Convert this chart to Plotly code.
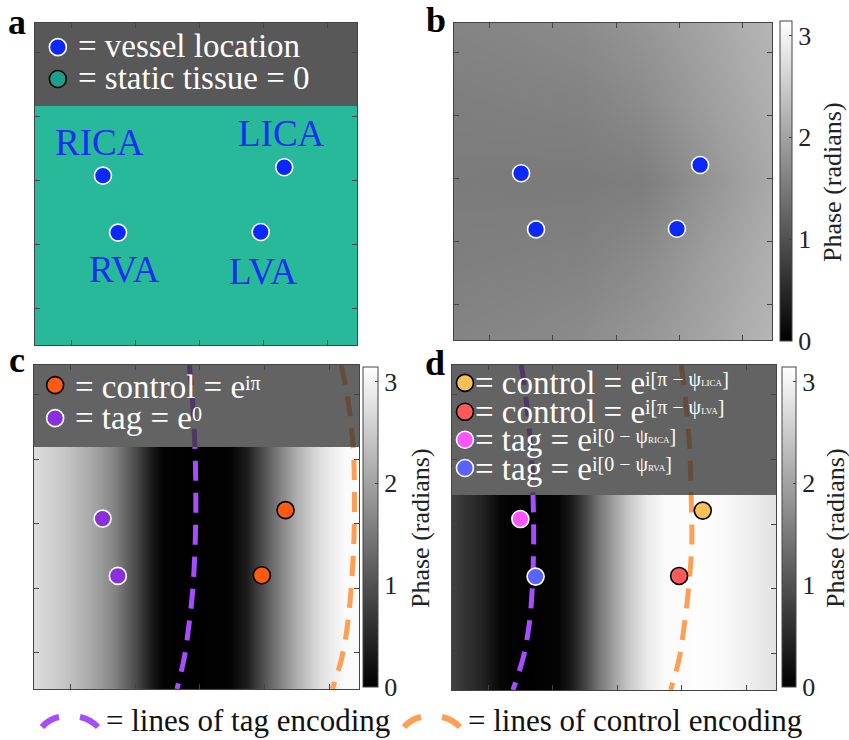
import plotly.graph_objects as go

W, H = 849, 740
FONT = "Liberation Serif"


def fx(p):
    return p / W


def fy(p):
    return 1 - p / H


# ---------------- data ----------------
vessel_names = ["RICA", "LICA", "RVA", "LVA"]
vessel_x = [21.1, 77.4, 25.8, 70.1]
vessel_y = [52.6, 55.2, 34.9, 35.1]
label_x = [19.9, 76.7, 27.9, 70.8]
label_y = [63.0, 65.8, 23.6, 22.7]

# panel b: phase (radians) read on a coarse grid
b_x = [0, 20, 40, 60, 80, 100]
b_y = [0, 25, 50, 75, 100]
b_phase = [
    [1.63, 1.66, 1.72, 1.85, 2.03, 2.24],
    [1.56, 1.58, 1.60, 1.72, 1.95, 2.17],
    [1.52, 1.51, 1.51, 1.55, 1.82, 2.09],
    [1.56, 1.58, 1.60, 1.72, 1.95, 2.17],
    [1.63, 1.66, 1.72, 1.85, 2.03, 2.24],
]

# panel c: phase profile across x
c_prof_x = [0, 8.9, 17.2, 24.9, 31.7, 36.6, 39.7, 49.8, 60.3, 65.5, 70.5, 75.7, 80.9, 85.8, 91.1, 95.7, 100]
c_prof_phase = [2.71, 2.46, 2.09, 1.60, 0.86, 0.25, 0.04, 0.0, 0.04, 0.37, 0.99, 1.60, 2.16, 2.59, 2.90, 3.08, 3.10]
c_map_top = 74.7

# panel d: phase profile across x
d_prof_x = [0, 4.0, 9.0, 12.0, 15.1, 24.4, 32.7, 36.7, 41.0, 45.1, 50.3, 55.2, 60.5, 65.7, 75.9, 83.0, 88.3, 93.5, 100]
d_prof_phase = [0.80, 0.62, 0.43, 0.25, 0.06, 0.0, 0.06, 0.31, 0.86, 1.42, 2.03, 2.53, 2.90, 3.08, 3.12, 3.08, 2.99, 2.90, 2.77]
d_map_top = 60.0

# encoding lines
curve_y = [100, 90, 75, 60, 45, 30, 20, 10, 0]
c_tag_x = [47.8, 48.7, 49.5, 49.8, 49.6, 48.8, 47.7, 46.3, 44.0]
c_ctrl_x = [94.5, 96.5, 98.2, 98.6, 98.4, 97.5, 96.5, 94.8, 91.8]
d_tag_x = [21.4, 22.8, 24.3, 25.0, 25.2, 24.7, 23.8, 22.0, 18.8]
d_ctrl_x = [70.8, 72.0, 73.3, 73.8, 74.0, 72.9, 71.7, 70.2, 67.5]

tick_vals = [11.2, 31.1, 51.0, 70.9, 90.8]
cbar_ticks = [0, 1, 2, 3]

# ---------------- styles ----------------
TEAL = "#27b99a"
BLUE = "#0a28ff"
TAG_PURPLE = "#8a2fe0"
CTRL_ORANGE = "#ff5a14"
YELLOW = "#f8c055"
RED = "#ff5a5a"
MAGENTA = "#ff55ff"
BLUE2 = "#5a62ff"
LINE_PURPLE = "#a64dff"
LINE_ORANGE = "#ff9f55"
GRAYSCALE = [[0, "rgb(0,0,0)"], [1, "rgb(255,255,255)"]]
PI = 3.14159

domains = {
    1: ([35, 357], [23, 345]),
    2: ([454, 772], [23, 340]),
    3: ([34, 359], [365, 689]),
    4: ([452, 776], [365, 690]),
}

# Times-metric advance widths (em) for placing superscripts after base text
TW = {'=': 0.564, ' ': 0.25, 'c': 0.444, 'o': 0.5, 'n': 0.5, 't': 0.278,
      'r': 0.333, 'l': 0.278, 'e': 0.444, 'a': 0.444, 'g': 0.5}


def tw(s, size):
    return sum(TW[ch] for ch in s) * size


fig = go.Figure()


def ax(n):
    return ("x" if n == 1 else f"x{n}"), ("y" if n == 1 else f"y{n}")


def cbar(x_left, thick, y_top, y_bot):
    return dict(
        x=fx(x_left), xanchor="left", xpad=0, ypad=0,
        thickness=thick, thicknessmode="pixels",
        len=(y_bot - y_top), lenmode="pixels",
        y=fy((y_top + y_bot) / 2), yanchor="middle",
        tickvals=cbar_ticks, ticks="inside", ticklen=3, tickcolor="#444",
        outlinewidth=1, outlinecolor="#444",
        tickfont=dict(family=FONT, size=26, color="#222"),
    )


def points(n, colors, outlines):
    xa, ya = ax(n)
    fig.add_trace(go.Scatter(
        x=vessel_x, y=vessel_y, xaxis=xa, yaxis=ya, mode="markers",
        marker=dict(size=17, color=colors, line=dict(color=outlines, width=1.6)),
        showlegend=False, hoverinfo="skip"))


def legend_marker(n, x, y, color, outline):
    xa, ya = ax(n)
    fig.add_trace(go.Scatter(
        x=[x], y=[y], xaxis=xa, yaxis=ya, mode="markers", cliponaxis=False,
        marker=dict(size=17, color=color, line=dict(color=outline, width=1.6)),
        showlegend=False, hoverinfo="skip"))


def enc_line(n, xs, color):
    xa, ya = ax(n)
    fig.add_trace(go.Scatter(
        x=xs, y=curve_y, xaxis=xa, yaxis=ya, mode="lines",
        line=dict(color=color, width=5, dash="20px,12px", shape="spline"),
        showlegend=False, hoverinfo="skip"))


def legend_box(n, y0, color):
    xa, ya = ax(n)
    fig.add_trace(go.Scatter(
        x=[0, 100, 100, 0, 0], y=[y0, y0, 100, 100, y0], xaxis=xa, yaxis=ya,
        mode="lines", fill="toself", fillcolor=color, line=dict(width=0),
        showlegend=False, hoverinfo="skip"))


# ---- panel a ----
fig.add_shape(type="rect", xref="x", yref="y", x0=0, x1=100, y0=0, y1=100,
              fillcolor=TEAL, line=dict(width=0), layer="below")
fig.add_shape(type="rect", xref="x", yref="y", x0=0, x1=100, y0=74.2, y1=100,
              fillcolor="#585858", line=dict(width=0), layer="below")
points(1, BLUE, "white")
legend_marker(1, 7.1, 92.5, BLUE, "white")
legend_marker(1, 7.1, 82.6, "#1aa08a", "black")

# ---- panel b ----
fig.add_trace(go.Heatmap(
    x=b_x, y=b_y, z=b_phase, xaxis="x2", yaxis="y2", zmin=0, zmax=PI,
    colorscale=GRAYSCALE, zsmooth="best", colorbar=cbar(780, 12, 21, 341),
    hoverinfo="skip"))
points(2, BLUE, "white")

# ---- panel c ----
fig.add_trace(go.Heatmap(
    x=c_prof_x, y=[c_map_top / 4, 3 * c_map_top / 4], z=[c_prof_phase, c_prof_phase],
    xaxis="x3", yaxis="y3", zmin=0, zmax=PI, colorscale=GRAYSCALE, zsmooth="best",
    colorbar=cbar(363, 15, 367, 687), hoverinfo="skip"))
enc_line(3, c_tag_x, LINE_PURPLE)
enc_line(3, c_ctrl_x, LINE_ORANGE)
legend_box(3, c_map_top, "rgba(50,50,50,0.76)")
points(3, [TAG_PURPLE, CTRL_ORANGE, TAG_PURPLE, CTRL_ORANGE], ["white", "black", "white", "black"])
legend_marker(3, 6.5, 93.8, CTRL_ORANGE, "black")
legend_marker(3, 6.5, 83.6, TAG_PURPLE, "white")

# ---- panel d ----
fig.add_trace(go.Heatmap(
    x=d_prof_x, y=[d_map_top / 4, 3 * d_map_top / 4], z=[d_prof_phase, d_prof_phase],
    xaxis="x4", yaxis="y4", zmin=0, zmax=PI, colorscale=GRAYSCALE, zsmooth="best",
    colorbar=cbar(782, 14, 367, 687), hoverinfo="skip"))
enc_line(4, d_tag_x, LINE_PURPLE)
enc_line(4, d_ctrl_x, LINE_ORANGE)
legend_box(4, d_map_top, "rgba(50,50,50,0.76)")
points(4, [MAGENTA, YELLOW, BLUE2, RED], ["white", "black", "white", "black"])
legend_marker(4, 4.0, 94.5, YELLOW, "black")
legend_marker(4, 4.0, 85.6, RED, "black")
legend_marker(4, 4.0, 77.0, MAGENTA, "white")
legend_marker(4, 4.0, 68.3, BLUE2, "white")

# ---------------- axes ----------------
layout_axes = {}
for n, (xd, yd) in domains.items():
    sfx = "" if n == 1 else str(n)
    common = dict(range=[0, 100], showline=True, mirror="ticks", linecolor="#444",
                  linewidth=1, ticks="inside", ticklen=5, tickcolor="#444",
                  tickvals=tick_vals, showticklabels=False, showgrid=False,
                  zeroline=False, fixedrange=True)
    layout_axes["xaxis" + sfx] = dict(domain=[fx(xd[0]), fx(xd[1])],
                                      anchor="y" + sfx, **common)
    layout_axes["yaxis" + sfx] = dict(domain=[fy(yd[1]), fy(yd[0])],
                                      anchor="x" + sfx, **common)

# ---------------- annotations ----------------
ann = []


def txt(x, y, text, size, color="white", xanchor="left", bold=False, xref="paper",
        yref="paper", angle=0):
    if xref == "paper":
        x, y = fx(x), fy(y)
    if bold:
        text = f"<b>{text}</b>"
    ann.append(dict(x=x, y=y, xref=xref, yref=yref, text=text, showarrow=False,
                    xanchor=xanchor, yanchor="middle", textangle=angle,
                    font=dict(family=FONT, size=size, color=color)))


# panel letters
txt(17, 22, "a", 36, "black", "center", True)
txt(436, 20, "b", 36, "black", "center", True)
txt(17, 360, "c", 36, "black", "center", True)
txt(435, 363, "d", 36, "black", "center", True)

# colorbar titles
for cx, cy in [(832, 182), (420, 528), (835, 528)]:
    txt(cx, cy, "Phase (radians)", 26, "#222", "center", angle=-90)

# vessel labels (panel a)
for name, lx, ly in zip(vessel_names, label_x, label_y):
    txt(lx, ly, name, 37, "#1430f0", "center", xref="x", yref="y")

# legend a
txt(76, 46, "= vessel location", 33)
txt(76, 78, "= static tissue = 0", 33)

# legend c
BS = 33
SS = 20
c_left = 73
for base, sup, yb in [("= control = e", "iπ", 397), ("= tag = e", "0", 428)]:
    txt(c_left, yb - 0.3 * BS, base, BS)
    txt(c_left + tw(base, BS), yb - 8 - 0.3 * SS, sup, SS)

# legend d
d_left = 473
SM = "<span style='font-size:9px'>"
SP = "\u00a0"
d_lines = [
    ("= control = e", f"i[π{SP}−{SP}ψ{SM}LICA</span>]", 393),
    ("= control = e", f"i[π{SP}−{SP}ψ{SM}LVA</span>]", 421.5),
    ("= tag = e", f"i[0{SP}−{SP}ψ{SM}RICA</span>]", 450),
    ("= tag = e", f"i[0{SP}−{SP}ψ{SM}RVA</span>]", 478.5),
]
for base, sup, yb in d_lines:
    txt(d_left, yb - 0.3 * BS, base, BS)
    txt(d_left + tw(base, BS), yb - 8 - 0.3 * SS, sup, SS)

# bottom legend
txt(104, 720, "= lines of tag encoding", 31, "#111")
txt(466, 720, "= lines of control encoding", 31, "#111")


def ppath(pts):
    (x0, y0), (cx, cy), (x1, y1) = pts
    return f"M {fx(x0)},{fy(y0)} Q {fx(cx)},{fy(cy)} {fx(x1)},{fy(y1)}"


for base, color in [(42, LINE_PURPLE), (404, LINE_ORANGE)]:
    for seg in [[(base, 727), (base + 7, 719), (base + 17, 717)],
                [(base + 38, 717), (base + 48, 719), (base + 56, 727)]]:
        fig.add_shape(type="path", xref="paper", yref="paper", path=ppath(seg),
                      line=dict(color=color, width=6))

fig.update_layout(
    width=W, height=H, autosize=False,
    margin=dict(l=0, r=0, t=0, b=0),
    paper_bgcolor="white", plot_bgcolor="white",
    showlegend=False, annotations=ann,
    font=dict(family=FONT),
    **layout_axes,
)

fig.write_html("out.html", config={"displayModeBar": False},
               post_script="document.body.style.margin='0px';document.body.style.overflow='hidden';")
